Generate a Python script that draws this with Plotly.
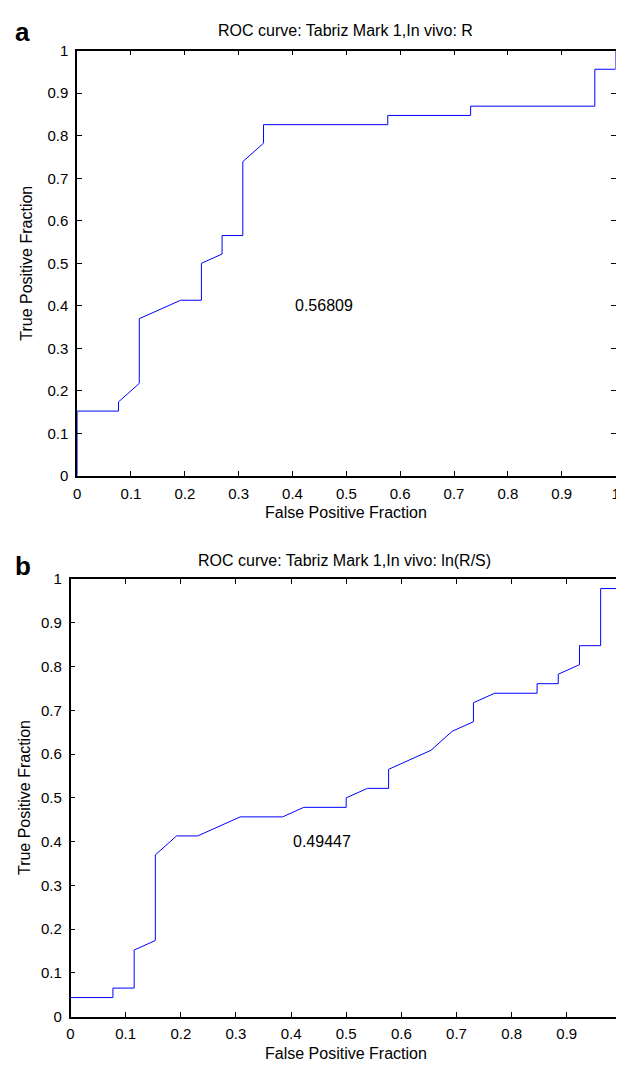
import plotly.graph_objects as go

# Panel a: ROC curve, In vivo: R
a_fpf = [0, 0, 0.0769, 0.0769, 0.1154, 0.1154, 0.1923, 0.2308, 0.2308, 0.2692, 0.2692,
         0.3077, 0.3077, 0.3462, 0.3462, 0.5769, 0.5769, 0.7308, 0.7308, 0.9615, 0.9615, 1, 1]
a_tpf = [0, 0.1522, 0.1522, 0.1739, 0.2174, 0.3696, 0.4130, 0.4130, 0.5, 0.5217, 0.5652,
         0.5652, 0.7391, 0.7826, 0.8261, 0.8261, 0.8478, 0.8478, 0.8696, 0.8696, 0.9565, 0.9565, 1]
a_auc = "0.56809"
a_title = "ROC curve: Tabriz Mark 1,In vivo: R"

# Panel b: ROC curve, In vivo: ln(R/S)
b_fpf = [0, 0, 0.0769, 0.0769, 0.1154, 0.1154, 0.1538, 0.1538, 0.1923, 0.2308, 0.3077,
         0.3846, 0.4231, 0.5, 0.5, 0.5385, 0.5769, 0.5769, 0.6154, 0.6538, 0.6923, 0.7308,
         0.7308, 0.7692, 0.8462, 0.8462, 0.8846, 0.8846, 0.9231, 0.9231, 0.9615, 0.9615, 1, 1]
b_tpf = [0, 0.0435, 0.0435, 0.0652, 0.0652, 0.1522, 0.1739, 0.3696, 0.4130, 0.4130, 0.4565,
         0.4565, 0.4783, 0.4783, 0.5, 0.5217, 0.5217, 0.5652, 0.5870, 0.6087, 0.6522, 0.6739,
         0.7174, 0.7391, 0.7391, 0.7609, 0.7609, 0.7826, 0.8043, 0.8478, 0.8478, 0.9783, 0.9783, 1]
b_auc = "0.49447"
b_title = "ROC curve: Tabriz Mark 1,In vivo: ln(R/S)"

x_label = "False Positive Fraction"
y_label = "True Positive Fraction"
tick_vals = [0, 0.1, 0.2, 0.3, 0.4, 0.5, 0.6, 0.7, 0.8, 0.9, 1]
tick_text = ["0", "0.1", "0.2", "0.3", "0.4", "0.5", "0.6", "0.7", "0.8", "0.9", "1"]

# page body has an 8px margin; keep the figure inside the 624x1070 window
OFF = 8
W, H = 624 - OFF, 1070 - 2 * OFF
FONT = "Liberation Sans, Arial, Helvetica, sans-serif"
TICKFONT = dict(family=FONT, size=15, color="black")


def px(x):
    return (x - OFF) / W


def py(y):
    return 1 - (y - OFF) / H


fig = go.Figure()
fig.add_trace(go.Scatter(x=a_fpf, y=a_tpf, mode="lines", line=dict(color="#0000ff", width=1),
                         xaxis="x", yaxis="y", showlegend=False, hoverinfo="x+y"))
fig.add_trace(go.Scatter(x=b_fpf, y=b_tpf, mode="lines", line=dict(color="#0000ff", width=1),
                         xaxis="x2", yaxis="y2", showlegend=False, hoverinfo="x+y"))

axis_common = dict(tickvals=tick_vals, ticktext=tick_text, ticks="inside",
                   ticklen=5, tickwidth=1, tickcolor="black", showline=True, linecolor="black",
                   linewidth=1.5, showgrid=False, zeroline=False,
                   tickfont=TICKFONT, fixedrange=True)

# panel b's right edge lies just past the window edge in the reference
b_x0, b_unit = 67.3, 558.6
b_xmax = (624 - b_x0) / b_unit

fig.update_layout(
    width=W, height=H,
    margin=dict(l=0, r=0, t=0, b=0),
    paper_bgcolor="white", plot_bgcolor="white",
    xaxis=dict(domain=[px(74), px(619.5)], anchor="y", range=[0, 1], mirror="ticks",
               ticklabelstandoff=3, **axis_common),
    yaxis=dict(domain=[py(474.3), py(42.3)], anchor="x", range=[0, 1], mirror="ticks",
               ticklabelstandoff=4, **axis_common),
    xaxis2=dict(domain=[px(b_x0), 1.0], anchor="y2", range=[0, b_xmax], mirror="ticks",
                ticklabelstandoff=3, **axis_common),
    yaxis2=dict(domain=[py(1024), py(579.3)], anchor="x2", range=[0, 1], mirror=False,
                ticklabelstandoff=4, **axis_common),
    # right-hand ticks of panel b (its right border line falls outside the window)
    yaxis3=dict(overlaying="y2", anchor="x2", side="right", range=[0, 1], tickvals=tick_vals,
                ticks="inside", ticklen=5, tickwidth=1, tickcolor="black", showline=False,
                showticklabels=False, showgrid=False, zeroline=False, fixedrange=True),
    showlegend=False,
)

txt = dict(family=FONT, size=16, color="black")
annotations = [
    # panel letters
    dict(text="<b>a</b>", x=px(19), y=py(23), xref="paper", yref="paper", showarrow=False,
         font=dict(family=FONT, size=26, color="black"), xanchor="center", yanchor="middle"),
    dict(text="<b>b</b>", x=px(19), y=py(566), xref="paper", yref="paper", showarrow=False,
         font=dict(family=FONT, size=26, color="black"), xanchor="center", yanchor="middle"),
    # titles
    dict(text=a_title, x=px(346), y=py(22), xref="paper", yref="paper", showarrow=False,
         font=txt, xanchor="center", yanchor="middle"),
    dict(text=b_title, x=px(345), y=py(560), xref="paper", yref="paper", showarrow=False,
         font=txt, xanchor="center", yanchor="middle"),
    # axis titles
    dict(text=x_label, x=px(346), y=py(512), xref="paper", yref="paper", showarrow=False,
         font=txt, xanchor="center", yanchor="middle"),
    dict(text=x_label, x=px(346), y=py(1061), xref="paper", yref="paper", showarrow=False,
         font=txt, xanchor="center", yanchor="middle"),
    dict(text=y_label, x=px(23), y=py(258), xref="paper", yref="paper", showarrow=False,
         font=txt, xanchor="center", yanchor="middle", textangle=-90),
    dict(text=y_label, x=px(20), y=py(801), xref="paper", yref="paper", showarrow=False,
         font=txt, xanchor="center", yanchor="middle", textangle=-90),
    # AUC values
    dict(text=a_auc, x=0.4, y=0.4, xref="x", yref="y", showarrow=False, font=txt,
         xanchor="left", yanchor="middle"),
    dict(text=b_auc, x=0.4, y=0.4, xref="x2", yref="y2", showarrow=False, font=txt,
         xanchor="left", yanchor="middle"),
]
fig.update_layout(annotations=annotations)

fig.write_html("out.html")
